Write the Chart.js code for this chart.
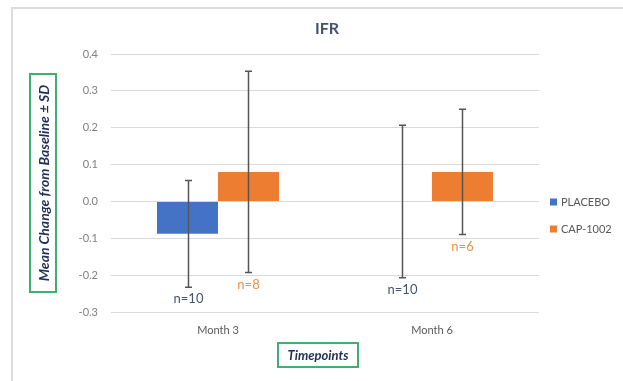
<!DOCTYPE html>
<html>
<head>
<meta charset="utf-8">
<script src="https://cdn.jsdelivr.net/npm/chart.js@4/dist/chart.umd.min.js"></script>
<style>
  html, body { margin: 0; padding: 0; background: #ffffff; }
  #wrap { position: relative; width: 623px; height: 381px; overflow: hidden; font-family: Lato, "Open Sans", sans-serif; }
  #frame { position: absolute; left: 11px; top: 7px; width: 700px; height: 500px; border-left: 2px solid #dcdcdc; border-top: 2px solid #dcdcdc; }
  #chart { position: absolute; left: 0; top: 0; }
  #title { position: absolute; left: 277px; width: 100px; top: 18px; text-align: center; font-size: 16px; font-weight: bold; color: #44546A; }
  #ytitle { position: absolute; left: 29px; top: 73px; width: 24px; height: 216px; border: 2px solid #3fae72; }
  #ytitle span { position: absolute; left: 50%; top: 50%; transform: translate(-50%, -50%) rotate(-90deg); white-space: nowrap; font-size: 14px; font-weight: bold; font-style: italic; color: #1f2f57; }
  #xtitle { position: absolute; left: 277px; top: 342px; width: 78px; height: 22px; border: 2px solid #3fae72; text-align: center; line-height: 22px; font-size: 13px; font-weight: bold; font-style: italic; color: #1f2f57; }
</style>
</head>
<body>
<div id="wrap">
  <div id="frame"></div>
  <canvas id="chart" width="623" height="381"></canvas>
  <div id="title">IFR</div>
  <div id="ytitle"><span>Mean Change from Baseline ± SD</span></div>
  <div id="xtitle">Timepoints</div>
</div>
<script>
// ---- data ----
const categories = ['Month 3', 'Month 6'];
const placeboMean = [-0.088, 0.0];
const placeboSD = [0.145, 0.207];
const capMean = [0.080, 0.080];
const capSD = [0.273, 0.170];
const placeboN = ['n=10', 'n=10'];
const capN = ['n=8', 'n=6'];
const seriesNames = ['PLACEBO', 'CAP-1002'];
const yTicksMin = -0.3;
const yTicksMax = 0.4;
const yStep = 0.1;

const blue = '#4472C4';
const orange = '#ED7D31';

const errorPlugin = {
  id: 'errs',
  afterDatasetsDraw(chart) {
    const ctx = chart.ctx;
    const y = chart.scales.y;
    const sds = [placeboSD, capSD];
    const ns = [placeboN, capN];
    const nColors = ['#44546A', '#E8914A'];
    chart.data.datasets.forEach((ds, di) => {
      const meta = chart.getDatasetMeta(di);
      meta.data.forEach((bar, i) => {
        const m = ds.data[i];
        const sd = sds[di][i];
        const x = Math.round(bar.x) + 0.5;
        const yt = y.getPixelForValue(m + sd);
        const yb = y.getPixelForValue(m - sd);
        ctx.save();
        ctx.strokeStyle = '#555555';
        ctx.lineWidth = 1.5;
        ctx.beginPath();
        ctx.moveTo(x, yt); ctx.lineTo(x, yb);
        ctx.moveTo(x - 3.5, yt); ctx.lineTo(x + 3.5, yt);
        ctx.moveTo(x - 3.5, yb); ctx.lineTo(x + 3.5, yb);
        ctx.stroke();
        ctx.fillStyle = nColors[di];
        ctx.font = '13px Lato, "Open Sans", sans-serif';
        ctx.textAlign = 'center';
        ctx.textBaseline = 'middle';
        ctx.fillText(ns[di][i], x, yb + 12);
        ctx.restore();
      });
    });
    // legend
    const lx = 550;
    const lys = [202, 229];
    chart.data.datasets.forEach((ds, di) => {
      ctx.save();
      ctx.fillStyle = ds.backgroundColor;
      ctx.fillRect(lx, lys[di] - 3.5, 7, 7);
      ctx.fillStyle = '#595959';
      ctx.font = '11px Lato, "Open Sans", sans-serif';
      ctx.textAlign = 'left';
      ctx.textBaseline = 'middle';
      ctx.fillText(ds.label, lx + 11, lys[di]);
      ctx.restore();
    });
  }
};

new Chart(document.getElementById('chart'), {
  type: 'bar',
  data: {
    labels: categories,
    datasets: [
      { label: seriesNames[0], data: placeboMean, backgroundColor: blue },
      { label: seriesNames[1], data: capMean, backgroundColor: orange }
    ]
  },
  options: {
    responsive: false,
    animation: false,
    devicePixelRatio: 1,
    layout: { padding: { left: 60, right: 84, top: 54, bottom: 39 } },
    categoryPercentage: 0.57,
    barPercentage: 1.0,
    plugins: { legend: { display: false }, title: { display: false }, tooltip: { enabled: false } },
    scales: {
      x: {
        grid: { display: false, drawTicks: false },
        border: { display: false },
        ticks: { color: '#595959', font: { size: 11, family: 'Lato, "Open Sans", sans-serif' }, padding: 12 },
        afterFit(scale) { scale.height = 30; }
      },
      y: {
        min: yTicksMin,
        max: yTicksMax,
        grid: { color: '#d9d9d9', lineWidth: 1, drawTicks: false },
        border: { display: false },
        ticks: {
          stepSize: yStep,
          color: '#7f7f7f',
          padding: 13,
          font: { size: 11, family: 'Lato, "Open Sans", sans-serif' },
          callback: (v) => Number(v).toFixed(1)
        },
        afterFit(scale) { scale.width = 51; }
      }
    }
  },
  plugins: [errorPlugin]
});
</script>
</body>
</html>
